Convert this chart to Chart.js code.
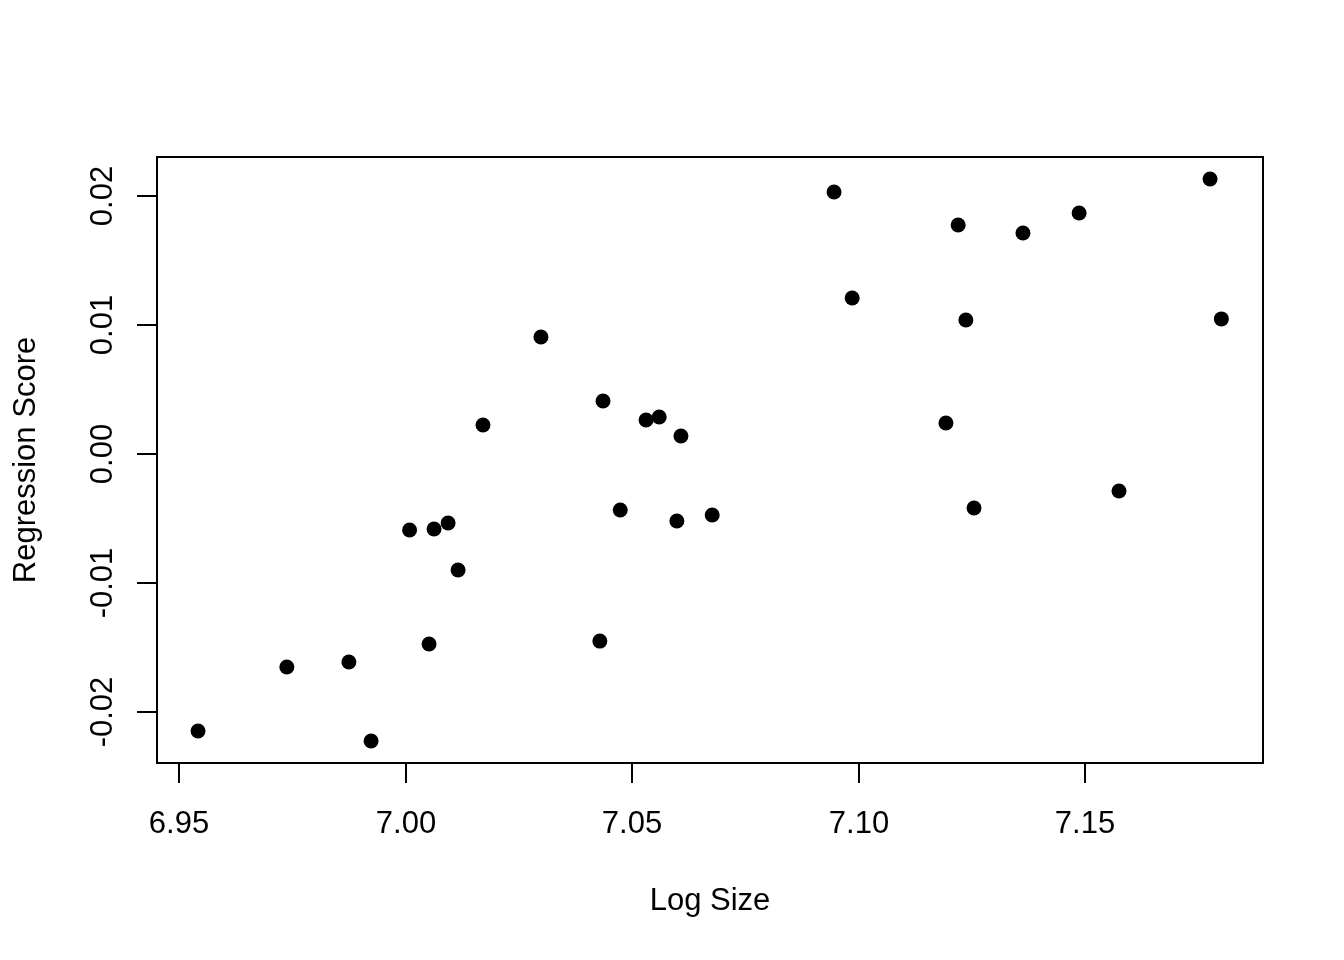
<!DOCTYPE html>
<html>
<head>
<meta charset="utf-8">
<script src="https://cdn.jsdelivr.net/npm/chart.js@4"></script>
<style>
html,body{margin:0;padding:0;background:#fff;}
#wrap{width:1344px;height:960px;}
</style>
</head>
<body>
<div id="wrap"><canvas id="c" width="1344" height="960"></canvas></div>
<script>
const logSize = [6.9542, 6.9738, 6.9875, 6.9924, 7.0009, 7.0052, 7.0063, 7.0094, 7.0116, 7.0171,
                 7.0299, 7.0429, 7.0436, 7.0474, 7.0531, 7.0560, 7.0599, 7.0608, 7.0677, 7.0946,
                 7.0986, 7.1193, 7.1220, 7.1237, 7.1255, 7.1363, 7.1487, 7.1575, 7.1776, 7.1801];
const regScore = [-0.02147, -0.01651, -0.01612, -0.02225, -0.00589, -0.01473, -0.00581, -0.00535, -0.00899, 0.00225,
                  0.00907, -0.01450, 0.00411, -0.00434, 0.00264, 0.00287, -0.00519, 0.00140, -0.00473, 0.02031,
                  0.01209, 0.00240, 0.01775, 0.01039, -0.00419, 0.01713, 0.01868, -0.00287, 0.02132, 0.01047];
const xTickValues = [6.95, 7.00, 7.05, 7.10, 7.15];
const xTickLabels = ["6.95", "7.00", "7.05", "7.10", "7.15"];
const yTickValues = [-0.02, -0.01, 0.00, 0.01, 0.02];
const yTickLabels = ["-0.02", "-0.01", "0.00", "0.01", "0.02"];
const xTitle = "Log Size";
const yTitle = "Regression Score";

const points = logSize.map((x, i) => ({x: x, y: regScore[i]}));
const FONT = '31px "Liberation Sans", Arial, Helvetica, sans-serif';

const rAxes = {
  id: 'rAxes',
  afterDraw(chart) {
    const ctx = chart.ctx;
    const a = chart.chartArea;
    const xs = chart.scales.x, ys = chart.scales.y;
    ctx.save();
    ctx.strokeStyle = '#000';
    ctx.fillStyle = '#000';
    ctx.lineWidth = 2;
    ctx.strokeRect(a.left, a.top, a.right - a.left, a.bottom - a.top);
    ctx.font = FONT;
    ctx.textAlign = 'center';
    ctx.textBaseline = 'alphabetic';
    xTickValues.forEach((v, i) => {
      const px = Math.round(xs.getPixelForValue(v));
      ctx.beginPath();
      ctx.moveTo(px, a.bottom);
      ctx.lineTo(px, a.bottom + 20);
      ctx.stroke();
      ctx.fillText(xTickLabels[i], px, a.bottom + 70);
    });
    yTickValues.forEach((v, i) => {
      const py = Math.round(ys.getPixelForValue(v));
      ctx.beginPath();
      ctx.moveTo(a.left, py);
      ctx.lineTo(a.left - 20, py);
      ctx.stroke();
      ctx.save();
      ctx.translate(a.left - 45, py);
      ctx.rotate(-Math.PI / 2);
      ctx.fillText(yTickLabels[i], 0, 0);
      ctx.restore();
    });
    ctx.fillText(xTitle, (a.left + a.right) / 2, a.bottom + 147);
    ctx.save();
    ctx.translate(35, (a.top + a.bottom) / 2);
    ctx.rotate(-Math.PI / 2);
    ctx.fillText(yTitle, 0, 0);
    ctx.restore();
    ctx.restore();
  }
};

new Chart(document.getElementById('c'), {
  type: 'scatter',
  data: {
    datasets: [{
      data: points,
      backgroundColor: '#000',
      borderColor: '#000',
      borderWidth: 0,
      pointRadius: 7.5,
      pointHoverRadius: 7.5
    }]
  },
  options: {
    responsive: false,
    animation: false,
    events: [],
    layout: {padding: {left: 157, top: 157, right: 81, bottom: 197}},
    plugins: {legend: {display: false}, tooltip: {enabled: false}},
    scales: {
      x: {type: 'linear', display: false, min: 6.94514, max: 7.18929},
      y: {type: 'linear', display: false, min: -0.02395, max: 0.02302}
    }
  },
  plugins: [rAxes]
});
</script>
</body>
</html>
